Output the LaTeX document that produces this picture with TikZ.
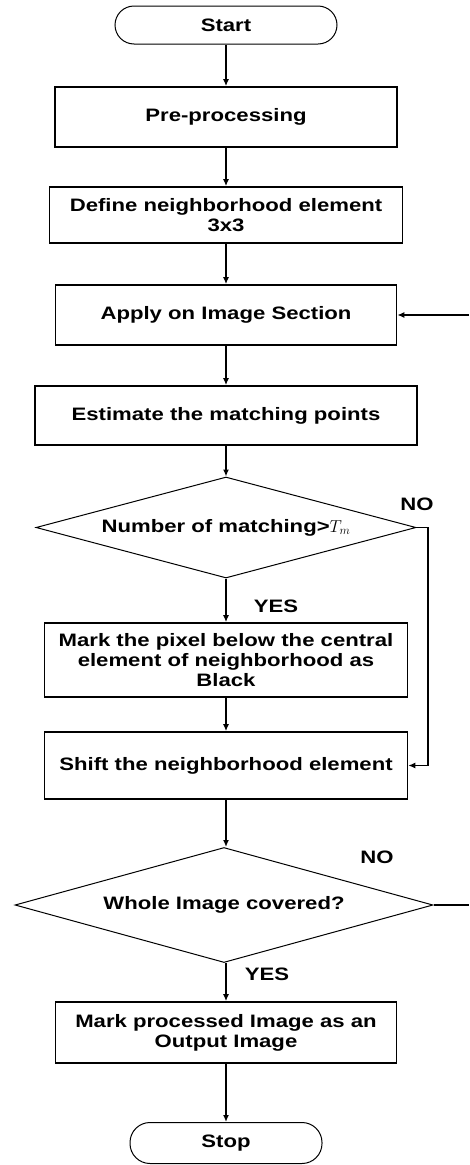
\documentclass[tikz,border=0pt]{standalone}
\usepackage{fontspec}
\newfontfamily\dfont{Liberation Sans}[FakeStretch=1.23]
\usetikzlibrary{shapes.geometric,arrows.meta}
\begin{document}
\begin{tikzpicture}[x=1pt,y=-1pt,
 every node/.style={font=\dfont\bfseries\fontsize{18}{20}\selectfont},
 box/.style={draw,line width=1.6pt,rectangle,align=center,inner sep=0pt},
 term/.style={draw,line width=1pt,rectangle,inner sep=0pt},
 dec/.style={draw,line width=1pt,diamond,inner sep=0pt,align=center},
 arr/.style={line width=1.4pt,-{Latex[length=7pt,width=6pt]}},
 ln/.style={line width=1.4pt}]
\useasboundingbox (0,0) rectangle (469,1165);

\node[term,rounded corners=19pt,minimum width=222pt,minimum height=38pt] (start) at (226,25) {Start};
\node[box,minimum width=342pt,minimum height=60pt] (pre) at (226,117) {Pre-processing};
\node[box,minimum width=353pt,minimum height=56pt] (def) at (226,215) {Define neighborhood element\\3x3};
\node[box,minimum width=341pt,minimum height=60pt] (apply) at (226,315) {Apply on Image Section};
\node[box,minimum width=382pt,minimum height=59pt] (est) at (226,415.5) {Estimate the matching points};
\node[dec,aspect=3.76,minimum width=380pt,minimum height=101pt] (d1) at (226,527.5) {Number of matching>$T_m$};
\node[box,minimum width=363pt,minimum height=74pt] (mark) at (226,660) {Mark the pixel below the central\\element of neighborhood as\\Black};
\node[box,minimum width=363pt,minimum height=67pt] (shift) at (226,765.5) {Shift the neighborhood element};
\node[dec,aspect=3.63,minimum width=418pt,minimum height=115pt] (d2) at (224,905) {Whole Image covered?};
\node[box,minimum width=341pt,minimum height=61pt] (out) at (226,1032.5) {Mark processed Image as an\\Output Image};
\node[term,rounded corners=20pt,minimum width=192pt,minimum height=41pt] (stop) at (226,1143) {Stop};

\node (no1) at (417,504) {NO};
\node (yes1) at (276,606) {YES};
\node (no2) at (377,857) {NO};
\node (yes2) at (267,974) {YES};

\coordinate (c1) at (428,700);
\coordinate (r2) at (469,905);
\coordinate (r1) at (469,315);

\draw[arr] (start) -- (pre);
\draw[arr] (pre) -- (def);
\draw[arr] (def) -- (apply);
\draw[arr] (apply) -- (est);
\draw[arr] (est) -- (d1);
\draw[arr] (d1) -- (mark);
\draw[arr] (mark) -- (shift);
\draw[arr] (shift) -- (d2.north -| shift.south);
\draw[arr] (d2.south -| out.north) -- (out);
\draw[arr] (out) -- (stop);
\draw[arr] (d1.east) -| (c1) |- (shift.east);
\draw[ln] (d2.east) -- (r2);
\draw[arr] (r1) -- (apply.east);
\end{tikzpicture}
\end{document}
